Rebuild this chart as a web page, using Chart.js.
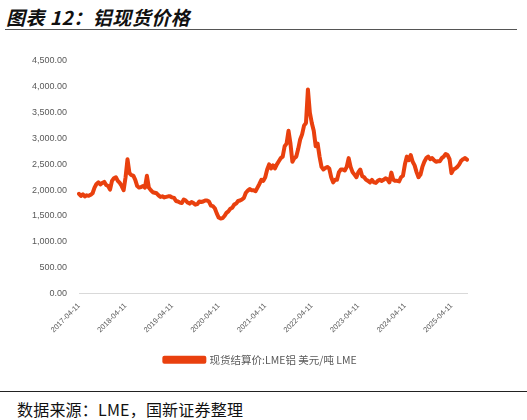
<!DOCTYPE html>
<html>
<head>
<meta charset="utf-8">
<script src="https://cdn.jsdelivr.net/npm/chart.js@4.4.1/dist/chart.umd.min.js"></script>
<style>
  html,body{margin:0;padding:0;background:#fff;width:527px;height:420px;overflow:hidden;}
  #title{position:absolute;left:6px;top:3px;font-family:"Noto Sans CJK SC",sans-serif;font-weight:bold;font-style:italic;font-size:19px;color:#111;letter-spacing:0.5px;}
  #topline{position:absolute;left:5px;top:29px;width:512px;height:0;border-top:1.5px solid #555;}
  #botline{position:absolute;left:0;top:391px;width:527px;height:0;border-top:1px solid #222;}
  #source{position:absolute;left:17px;top:397px;font-family:"Noto Sans CJK SC",sans-serif;font-size:16px;letter-spacing:0.2px;color:#111;}
  #wrap{position:absolute;left:0;top:40px;width:527px;height:335px;}
</style>
</head>
<body>
<div id="title">图表 12：铝现货价格</div>
<div id="topline"></div>
<div id="wrap"><canvas id="c"></canvas></div>
<div id="botline"></div>
<div id="source">数据来源：LME，国新证券整理</div>
<script>
// Semi-monthly readings (11th and 25th of each month), USD/t
const v2017 = [1930,1890, 1920,1880, 1900,1890, 1910,1940, 2050,2120, 2150,2110, 2140,2160, 2100,2080, 2010,2180];
const v2018 = [2230,2250, 2180,2140, 2080,2000, 2250,2600, 2330,2290, 2280,2200, 2080,2050, 2060,2080, 2050,2280, 2050,2000, 1960,1950, 1940,1900];
const v2019 = [1870,1880, 1860,1870, 1880,1880, 1860,1850, 1790,1780, 1760,1750, 1820,1800, 1760,1740, 1770,1750, 1720,1730, 1780,1770, 1780,1800];
const v2020 = [1800,1780, 1700,1690, 1650,1550, 1470,1450, 1460,1500, 1560,1590, 1640,1660, 1720,1740, 1790,1800, 1820,1850, 1950,1990, 2020,2000];
const v2021 = [2000,1980, 2050,2120, 2200,2180, 2250,2400, 2500,2420, 2480,2420, 2500,2560, 2620,2650, 2850,2900, 3150,2900, 2550,2620, 2650,2800];
const v2022 = [2980,3080, 3250,3300, 3950,3500, 3300,3150, 2850,2900, 2650,2450, 2400,2430, 2450,2420, 2250,2150, 2200,2200, 2350,2400, 2400,2380];
const v2023 = [2450,2620, 2450,2350, 2300,2250, 2350,2400, 2270,2250, 2200,2180, 2150,2200, 2150,2140, 2180,2200, 2180,2200, 2230,2210, 2150,2340];
const v2024 = [2200,2180, 2180,2170, 2250,2280, 2500,2650, 2580,2680, 2550,2480, 2350,2250, 2300,2450, 2550,2620, 2650,2600, 2620,2580, 2550,2560];
const v2025 = [2560,2620, 2650,2700, 2680,2600, 2330,2400, 2420,2450, 2500,2570, 2600,2620, 2590];

const seriesName = '现货结算价:LME铝 美元/吨 LME';
const tickSuffix = '-04-11';

const values = [].concat(v2017, v2018, v2019, v2020, v2021, v2022, v2023, v2024, v2025);

// category labels: 11th and 25th of each month from 2017-04
const labels = [];
let y = 2017, m = 4;
while (labels.length < values.length) {
  const mm = String(m).padStart(2, '0');
  labels.push(y + '-' + mm + '-11');
  if (labels.length < values.length) labels.push(y + '-' + mm + '-25');
  m++; if (m > 12) { m = 1; y++; }
}

const fmt = new Intl.NumberFormat('en-US', {minimumFractionDigits: 2, maximumFractionDigits: 2});

new Chart(document.getElementById('c'), {
  type: 'line',
  data: {
    labels: labels,
    datasets: [{
      label: seriesName,
      data: values,
      borderColor: '#E9400E',
      backgroundColor: '#E9400E',
      borderWidth: 4,
      pointRadius: 0,
      tension: 0,
      borderJoinStyle: 'round',
      borderCapStyle: 'round'
    }]
  },
  options: {
    responsive: true,
    maintainAspectRatio: false,
    animation: false,
    layout: {padding: {top: 21, right: 6, left: 0, bottom: 0}},
    plugins: {
      tooltip: {enabled: false},
      legend: {
        position: 'bottom',
        labels: {
          boxWidth: 40,
          boxHeight: 4,
          color: '#595959',
          padding: 8,
          font: {family: '"Noto Sans CJK SC", sans-serif', size: 10.5}
        }
      }
    },
    scales: {
      x: {
        offset: false,
        grid: {display: false, drawTicks: false},
        border: {display: true, color: '#d9d9d9', width: 1},
        afterFit: (s) => { s.height = 53; },
        ticks: {
          autoSkip: false,
          minRotation: 45,
          maxRotation: 45,
          padding: 8,
          color: '#595959',
          font: {family: '"Liberation Sans", sans-serif', size: 7.5},
          callback: function(val) {
            const l = this.getLabelForValue(val);
            return l.endsWith(tickSuffix) ? l : null;
          }
        }
      },
      y: {
        min: 0,
        max: 4500,
        grid: {display: false, drawTicks: false},
        border: {display: false},
        afterFit: (s) => { s.width = 79; },
        ticks: {
          stepSize: 500,
          padding: 12,
          color: '#595959',
          font: {family: '"Liberation Sans", sans-serif', size: 9},
          callback: (v) => fmt.format(v)
        }
      },
      yRight: {
        position: 'right',
        min: 0,
        max: 4500,
        grid: {display: false, drawTicks: false},
        border: {display: false},
        ticks: {display: false},
        afterFit: (s) => { s.width = 54; }
      }
    }
  }
});
</script>
</body>
</html>
